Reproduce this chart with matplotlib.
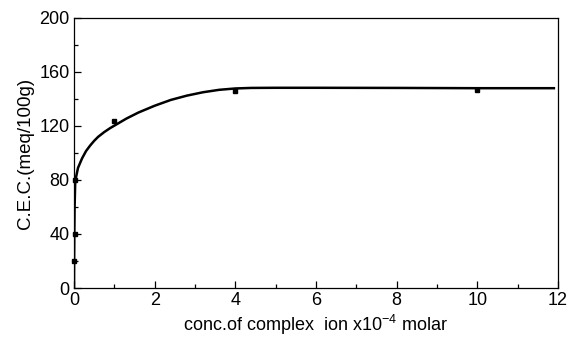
import numpy as np
import matplotlib
matplotlib.use('Agg')
import matplotlib.pyplot as plt
from matplotlib.ticker import MultipleLocator

plt.rcParams['font.family'] = ['Liberation Sans', 'DejaVu Sans']
plt.rcParams['mathtext.fontset'] = 'custom'
plt.rcParams['mathtext.rm'] = 'Liberation Sans'
plt.rcParams['mathtext.it'] = 'Liberation Sans'

# measured points
conc = [0.01, 0.02, 0.03, 1.0, 4.0, 10.0]
cec = [20, 40, 80, 123.5, 146, 147]

# fitted curve
curve_x = [0, 0.003, 0.008, 0.015, 0.03, 0.05, 0.1, 0.2, 0.3, 0.4, 0.5, 0.6,
           0.75, 0.9, 1.1, 1.3, 1.6, 2.0, 2.4, 2.8, 3.2, 3.6, 4.0, 4.4,
           5, 6, 8, 10, 11.9]
curve_y = [0, 20, 40, 60, 78, 82, 89, 96, 101.5, 105.5, 109, 112,
           115.5, 118.5, 122, 125.5, 130, 135, 139.3, 142.5, 145, 146.8, 147.8, 148.2,
           148.3, 148.3, 148.2, 148, 148]

fig = plt.figure(figsize=(5.7, 3.37), dpi=100)
ax = fig.add_axes([0.1298, 0.1454, 0.849, 0.8012])

ax.plot(curve_x, curve_y, color='black', lw=1.8)
ax.plot(conc, cec, 's', color='black', ms=3.5, clip_on=False, zorder=3)

ax.set_xlim(0, 12)
ax.set_ylim(0, 200)
ax.xaxis.set_major_locator(MultipleLocator(2))
ax.xaxis.set_minor_locator(MultipleLocator(1))
ax.yaxis.set_major_locator(MultipleLocator(40))
ax.yaxis.set_minor_locator(MultipleLocator(20))
ax.tick_params(which='both', direction='in', top=False, right=False, labelsize=13, pad=3)
ax.tick_params(which='major', length=5, width=0.9)
ax.tick_params(which='minor', length=3, width=0.9)
for s in ax.spines.values():
    s.set_linewidth(0.9)

ax.set_xlabel('conc.of complex  ion x10$^{-4}$ molar', fontsize=13, labelpad=3)
ax.set_ylabel('C.E.C.(meq/100g)', fontsize=13.5, labelpad=4)

plt.savefig('out.png', dpi=100)
